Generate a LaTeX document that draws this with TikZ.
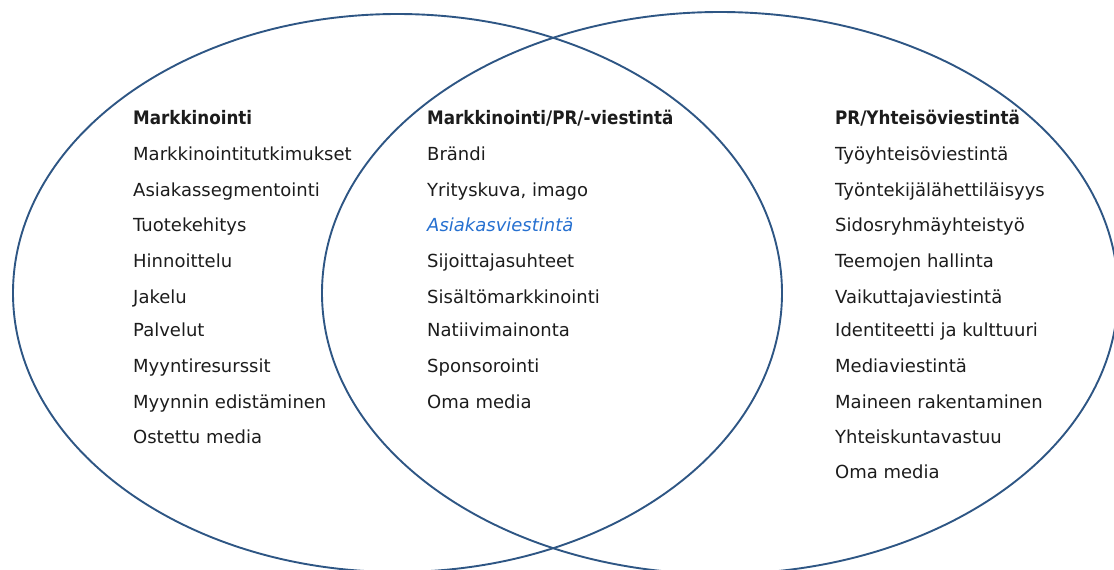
\documentclass[tikz,border=0pt]{standalone}
\usepackage{fontspec}
\setmainfont{DejaVu Sans}
\newfontfamily\headfont{DejaVu Sans Condensed}
\begin{document}
\definecolor{ringblue}{RGB}{46,86,132}
\definecolor{itemtext}{RGB}{28,28,28}
\definecolor{accentblue}{RGB}{38,112,208}
\begin{tikzpicture}[x=1pt,y=-1pt,
  ring/.style={draw=ringblue,line width=1.9pt},
  item/.style={anchor=base west,inner sep=0pt,text=itemtext,font=\fontsize{18}{20}\selectfont},
  head/.style={item,font=\headfont\fontsize{18.6}{20}\selectfont\bfseries},
  accent/.style={item,text=accentblue,font=\fontsize{18}{20}\selectfont\itshape}]
\useasboundingbox (0,0) rectangle (1114,570);

% the two overlapping fields
\draw[ring] (397.5,293) ellipse [x radius=384.5pt, y radius=279pt];
\draw[ring] (720,293) ellipse [x radius=398pt, y radius=281pt];

% left field: marketing
\node[head] (m0) at (133,124) {Markkinointi};
\node[item] (m1) at (133,160) {Markkinointitutkimukset};
\node[item] (m2) at (133,196) {Asiakassegmentointi};
\node[item] (m3) at (133,231) {Tuotekehitys};
\node[item] (m4) at (133,267) {Hinnoittelu};
\node[item] (m5) at (133,303) {Jakelu};
\node[item] (m6) at (133,336) {Palvelut};
\node[item] (m7) at (133,372) {Myyntiresurssit};
\node[item] (m8) at (133,408) {Myynnin edistäminen};
\node[item] (m9) at (133,443) {Ostettu media};

% overlap: shared area
\node[head] (c0) at (427,124) {Markkinointi/PR/-viestintä};
\node[item] (c1) at (427,160) {Brändi};
\node[item] (c2) at (427,196) {Yrityskuva, imago};
\node[accent] (c3) at (427,231) {Asiakasviestintä};
\node[item] (c4) at (427,267) {Sijoittajasuhteet};
\node[item] (c5) at (427,303) {Sisältömarkkinointi};
\node[item] (c6) at (427,336) {Natiivimainonta};
\node[item] (c7) at (427,372) {Sponsorointi};
\node[item] (c8) at (427,408) {Oma media};

% right field: PR / corporate communication
\node[head] (p0) at (835,124) {PR/Yhteisöviestintä};
\node[item] (p1) at (835,160) {Työyhteisöviestintä};
\node[item] (p2) at (835,196) {Työntekijälähettiläisyys};
\node[item] (p3) at (835,231) {Sidosryhmäyhteistyö};
\node[item] (p4) at (835,267) {Teemojen hallinta};
\node[item] (p5) at (835,303) {Vaikuttajaviestintä};
\node[item] (p6) at (835,336) {Identiteetti ja kulttuuri};
\node[item] (p7) at (835,372) {Mediaviestintä};
\node[item] (p8) at (835,408) {Maineen rakentaminen};
\node[item] (p9) at (835,443) {Yhteiskuntavastuu};
\node[item] (p10) at (835,478) {Oma media};
\end{tikzpicture}
\end{document}
